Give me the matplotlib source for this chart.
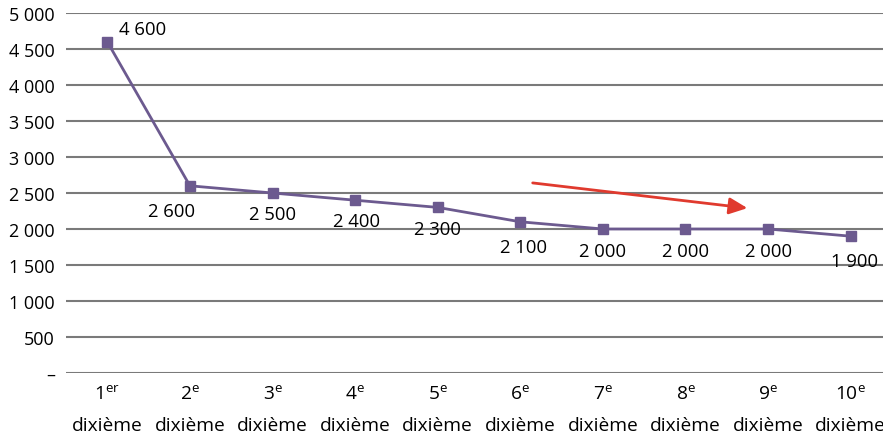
import matplotlib
matplotlib.use("Agg")
import matplotlib.pyplot as plt

plt.rcParams['font.family'] = ['Open Sans', 'DejaVu Sans']
plt.rcParams['mathtext.fontset'] = 'custom'
plt.rcParams['mathtext.rm'] = 'Open Sans'
plt.rcParams['mathtext.it'] = 'Open Sans'
plt.rcParams['mathtext.bf'] = 'Open Sans'

ordinals = ["1", "2", "3", "4", "5", "6", "7", "8", "9", "10"]
suffixes = ["er", "e", "e", "e", "e", "e", "e", "e", "e", "e"]
values = [4600, 2600, 2500, 2400, 2300, 2100, 2000, 2000, 2000, 1900]
value_labels = ["4 600", "2 600", "2 500", "2 400", "2 300", "2 100", "2 000", "2 000", "2 000", "1 900"]
yticks = [0, 500, 1000, 1500, 2000, 2500, 3000, 3500, 4000, 4500, 5000]
ytick_labels = ["–", "500", "1 000", "1 500", "2 000", "2 500", "3 000", "3 500", "4 000", "4 500", "5 000"]
arrow_start = (5.15, 2640)
arrow_end = (7.75, 2290)

W, H = 883, 439
fig = plt.figure(figsize=(W / 100, H / 100), dpi=100)
left, right = 66, 892
top, bottom = 14, 374
ax = fig.add_axes([left / W, (H - bottom) / H, (right - left) / W, (bottom - top) / H])

x = list(range(len(values)))
ax.plot(x, values, color="#6c5a8f", lw=2, marker="s", ms=7, mfc="#6c5a8f", mec="#6c5a8f", zorder=3)

ax.set_xlim(-0.5, len(values) - 0.5)
ax.set_ylim(0, 5000)
ax.set_yticks(yticks)
ax.set_yticklabels(ytick_labels, fontsize=13)
ax.set_xticks(x)
ax.set_xticklabels([f"{o}$^{{\\mathrm{{{s}}}}}$\ndixième" for o, s in zip(ordinals, suffixes)],
                   fontsize=13.8, linespacing=2.0)
ax.tick_params(axis="both", length=0)
ax.tick_params(axis="x", pad=8)
ax.tick_params(axis="y", pad=8)
for s in ax.spines.values():
    s.set_visible(False)
ax.yaxis.grid(True, color="#7a7a7a", lw=1.5)
ax.set_axisbelow(True)

offsets = [(35, 13), (-18, -25), (0, -21), (1, -21), (0, -22), (3, -25), (0, -22), (0, -22), (0, -22), (4, -25)]
for xi, v, lab, off in zip(x, values, value_labels, offsets):
    ax.annotate(lab, (xi, v), xytext=off, textcoords="offset pixels",
                ha="center", va="center", fontsize=13.3, color="black", zorder=4)

ax.annotate("", xy=arrow_end, xytext=arrow_start,
            arrowprops=dict(arrowstyle="-|>,head_length=1.1,head_width=0.5", color="#e03a2e", lw=2, shrinkA=0, shrinkB=0))

fig.savefig("out.png", dpi=100)
